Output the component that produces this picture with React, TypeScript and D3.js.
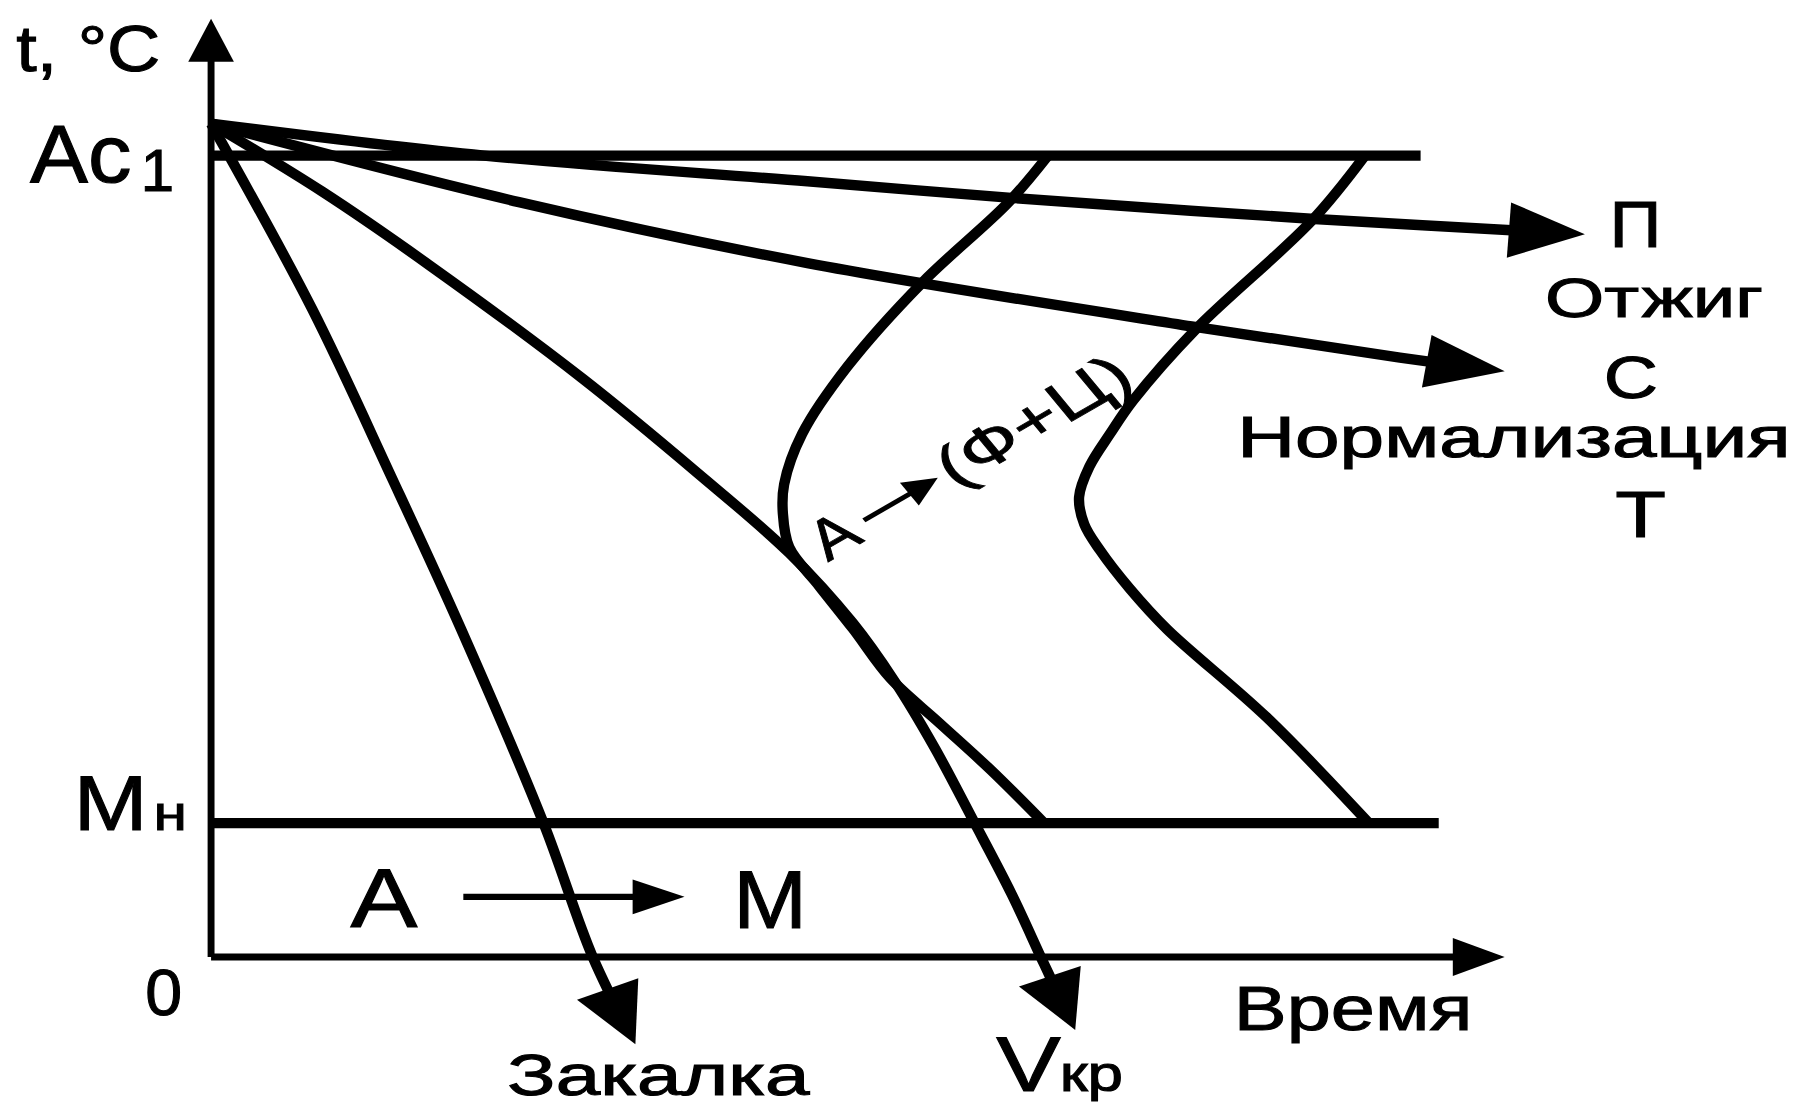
import React, { useEffect, useRef } from 'react';
import * as d3 from 'd3';

type Pt = [number, number];

// relative units: time 0..100 along the axis, temperature with Ac1 = 100
const AC1 = 100;
const MN = 16.7;
const X_END = 100;
const Y_END = 117.1;
const AC1_END = 93.5;
const MN_END = 94.9;

// cooling curves [time, temperature]
const annealing: Pt[] = [[0, 104], [21.1, 100], [46.1, 96.8], [62.1, 94.7], [85.3, 92.1], [106.2, 90.2]];
const normalizing: Pt[] = [[0, 104], [23.8, 94.2], [46.1, 86.6], [75.8, 78.7], [91.9, 74.8], [100, 73.1]];
const criticalRate: Pt[] = [
  [0, 104], [8.6, 95.5], [16.9, 86.3], [28.7, 72.2], [37.6, 60.4], [44.7, 50.4], [49.6, 41.7],
  [52.8, 34.5], [55.9, 26.2], [58.9, 17.1], [61.9, 7.8], [64.4, -0.9], [66.8, -9.1],
];
const quenching: Pt[] = [[0, 104], [7.8, 80.9], [14.0, 59.7], [19.3, 41.0], [25.7, 16.7], [29.5, 0], [32.8, -10.9]];

// transformation start / finish C-curves
const startCurve: Pt[] = [
  [64.7, 100], [61.6, 94.1], [55.0, 84.2], [49.2, 73.7], [45.7, 65.3], [44.3, 59.0], [44.2, 55.4],
  [44.7, 51.1], [47.0, 46.3], [49.6, 41.0], [52.5, 34.8], [56.3, 29.2], [60.3, 23.3], [64.4, 16.7],
];
const finishCurve: Pt[] = [
  [89.2, 100], [85.1, 91.9], [76.1, 78.3], [71.3, 69.5], [69.5, 65.3], [67.9, 61.2], [67.1, 57.4],
  [67.5, 54.0], [68.7, 50.8], [71.0, 46.0], [73.9, 40.9], [81.6, 29.9], [89.5, 16.7],
];

// austenite -> martensite arrow below Mн
const martensiteArrow: Pt[] = [[19.5, 7.5], [36.6, 7.5]];

const W = 1568;
const H = 961;
const S = 1.2; // horizontal stretch of the original drawing
const FONT = '"Liberation Sans", Arial, Helvetica, sans-serif';

const App = () => {
  const ref = useRef<SVGSVGElement>(null);

  useEffect(() => {
    const svg = d3.select(ref.current);
    svg.selectAll('*').remove();

    const x = d3.scaleLinear().domain([0, 100]).range([183, 1305]);
    const y = d3.scaleLinear().domain([0, 100]).range([830, 135]);

    const smooth = d3.line<Pt>().x(d => x(d[0])).y(d => y(d[1])).curve(d3.curveCatmullRom.alpha(0.5));
    const straight = d3.line<Pt>().x(d => x(d[0])).y(d => y(d[1]));

    const g = svg.append('g');

    const head = (tip: DOMPoint, back: DOMPoint, len: number, half: number) => {
      let dx = (tip.x - back.x) / S;
      let dy = tip.y - back.y;
      const n = Math.hypot(dx, dy);
      dx /= n;
      dy /= n;
      const bx = -len * dx;
      const by = -len * dy;
      const p1 = [tip.x + (bx - half * dy) * S, tip.y + by + half * dx];
      const p2 = [tip.x + (bx + half * dy) * S, tip.y + by - half * dx];
      return { points: [[tip.x, tip.y], p1, p2], dist: Math.hypot(bx * S, by) };
    };

    const arrow = (d: string, width: number, len: number, half: number) => {
      const path = g.append('path')
        .attr('d', d)
        .attr('fill', 'none')
        .attr('stroke', '#000')
        .attr('stroke-width', width);
      const node = path.node() as SVGPathElement;
      const L = node.getTotalLength();
      const tip = node.getPointAtLength(L);
      const back = node.getPointAtLength(Math.max(0, L - len * 1.2));
      const h = head(tip, back, len, half);
      path.attr('stroke-dasharray', `${L - h.dist + 2} ${L + 50}`);
      g.append('polygon')
        .attr('points', h.points.map(p => p.join(',')).join(' '))
        .attr('fill', '#000');
    };

    const plain = (d: string, width: number) =>
      g.append('path').attr('d', d).attr('fill', 'none').attr('stroke', '#000').attr('stroke-width', width);

    const label = (t: string, x0: number, y0: number, size: number, len?: number) => {
      const el = g.append('text')
        .attr('x', x0)
        .attr('y', y0)
        .attr('font-family', FONT)
        .attr('font-size', size)
        .attr('fill', '#000')
        .attr('stroke', '#000')
        .attr('stroke-width', 0.9)
        .text(t);
      if (len) el.attr('textLength', len).attr('lengthAdjust', 'spacingAndGlyphs');
      return el;
    };

    // axes
    arrow(straight([[0, 0], [X_END, 0]])!, 6, 37.5, 16.5);
    arrow(straight([[0, 0], [0, Y_END]])!, 6, 37.5, 16.5);

    // Ac1 and Mн levels
    plain(straight([[0, AC1], [AC1_END, AC1]])!, 9);
    plain(straight([[0, MN], [MN_END, MN]])!, 9);

    // C-curves
    plain(smooth(startCurve)!, 9);
    plain(smooth(finishCurve)!, 9);

    // cooling curves
    arrow(smooth(annealing)!, 9, 55, 24);
    arrow(smooth(normalizing)!, 9, 57, 23);
    arrow(smooth(criticalRate)!, 9, 50, 24);
    arrow(smooth(quenching)!, 9, 52, 24);

    // A -> M
    arrow(straight(martensiteArrow)!, 5.5, 37.5, 15);

    // labels
    label('t, °C', 14, 62, 56, 125);
    label('Ac', 26, 158, 70, 88);
    label('1', 122, 166, 52);
    label('M', 64, 720, 67, 64);
    label('н', 133, 720, 42, 29);
    label('0', 126, 880, 56, 32);
    label('A', 304, 804, 72, 58);
    label('M', 636, 805, 70, 64);
    label('Закалка', 440, 950, 50, 262);
    label('V', 864, 946, 68, 56);
    label('кр', 919, 946, 44, 55);
    label('Время', 1070, 893, 54, 207);
    label('П', 1396, 214, 57, 45);
    label('Отжиг', 1340, 275, 48, 189);
    label('С', 1391, 345, 52, 47);
    label('Нормализация', 1073, 396, 49, 480);
    label('Т', 1401, 466, 57, 44);

    // rotated label inside the C-curves
    const r = g.append('g').attr('transform', `translate(719,487) scale(${S},1) rotate(-34.7)`);
    r.append('text')
      .attr('x', -1).attr('y', 0)
      .attr('font-family', FONT).attr('font-size', 49)
      .attr('stroke', '#000').attr('stroke-width', 0.7)
      .text('A');
    r.append('line')
      .attr('x1', 41).attr('y1', -15).attr('x2', 84).attr('y2', -15)
      .attr('stroke', '#000').attr('stroke-width', 4);
    r.append('polygon')
      .attr('points', '106,-15 81,-27 81,-3')
      .attr('fill', '#000');
    r.append('text')
      .attr('x', 111).attr('y', 0)
      .attr('font-family', FONT).attr('font-size', 49)
      .attr('stroke', '#000').attr('stroke-width', 0.7)
      .attr('textLength', 160).attr('lengthAdjust', 'spacingAndGlyphs')
      .text('(Ф+Ц)');
  }, []);

  return (
    <svg
      ref={ref}
      width={1808}
      height={1108}
      viewBox={`0 0 ${W} ${H}`}
      style={{ position: 'absolute', left: 0, top: 0, background: '#fff' }}
    />
  );
};

export default App;
